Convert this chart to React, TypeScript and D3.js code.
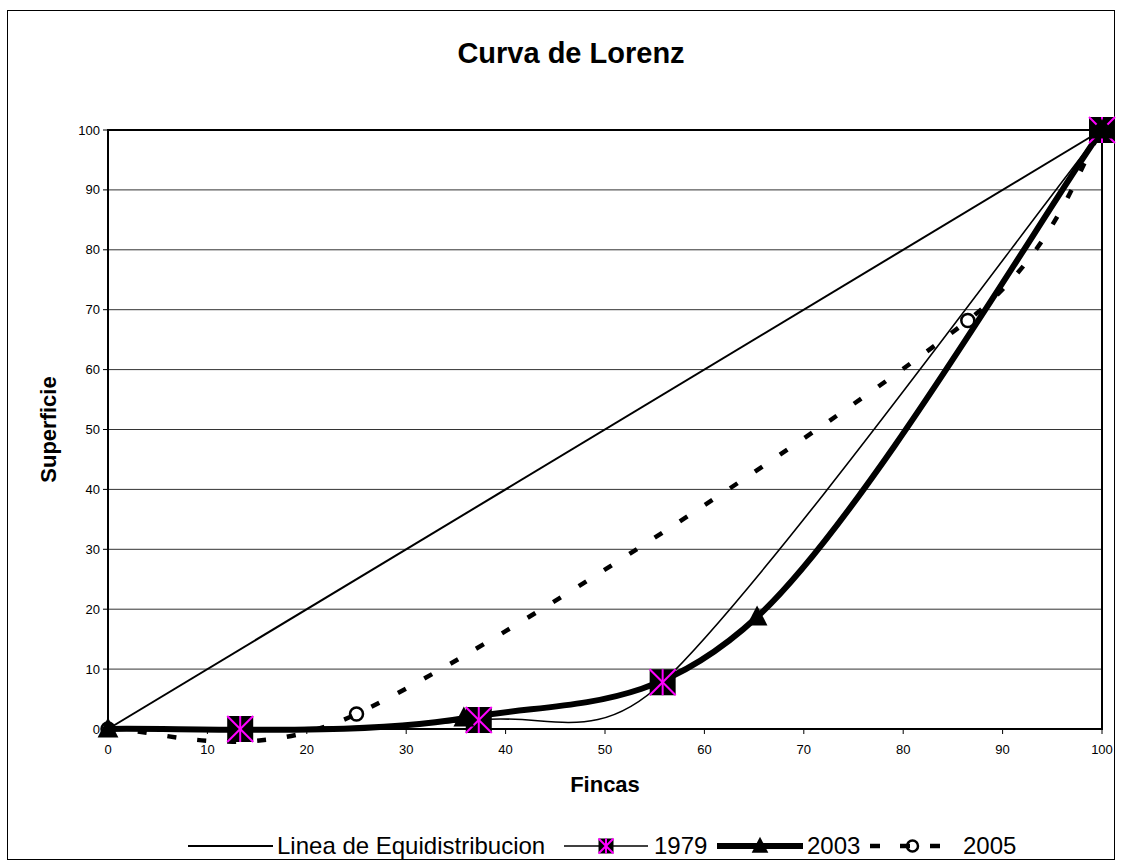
import React from "react";
import * as d3 from "d3";

// ---- data ----
const equiX = [0, 100];
const equiY = [0, 100];
const x1979 = [13.3, 37.3, 55.8, 100];
const y1979 = [0, 1.5, 7.8, 100];
const x2003 = [0, 35.8, 65.3, 100];
const y2003 = [0, 1.8, 18.7, 100];
const x2005 = [0, 25, 86.5, 100];
const y2005 = [0, 2.5, 68.2, 100];
const xTicks = [0, 10, 20, 30, 40, 50, 60, 70, 80, 90, 100];
const yTicks = [0, 10, 20, 30, 40, 50, 60, 70, 80, 90, 100];
const seriesNames = ["Linea de Equidistribucion", "1979", "2003", "2005"];
const title = "Curva de Lorenz";
const xTitle = "Fincas";
const yTitle = "Superficie";

const W = 1122, H = 867;
const M = { left: 108, right: 1102, top: 130, bottom: 729 };
const FONT = "Arial, 'Liberation Sans', Helvetica, sans-serif";

type P = [number, number];

function dist(a: P, b: P) {
  return Math.hypot(a[0] - b[0], a[1] - b[1]);
}

// Excel-like smoothed line (Bezier, arms capped at half segment length)
function excelSmooth(pts: P[]): string {
  const n = pts.length;
  if (n < 2) return "";
  let d = `M${pts[0][0]},${pts[0][1]}`;
  for (let i = 0; i < n - 1; i++) {
    const p0 = pts[i - 1] ?? pts[i];
    const p1 = pts[i];
    const p2 = pts[i + 1];
    const p3 = pts[i + 2] ?? pts[i + 1];
    const d12 = dist(p1, p2);
    const d02 = dist(p0, p2);
    const d13 = dist(p1, p3);
    let f1 = 1 / 6, f2 = 1 / 6;
    if (d02 > 0 && d02 / 6 > d12 / 2) f1 = d12 / (2 * d02);
    if (d13 > 0 && d13 / 6 > d12 / 2) f2 = d12 / (2 * d13);
    const c1: P = [p1[0] + (p2[0] - p0[0]) * f1, p1[1] + (p2[1] - p0[1]) * f1];
    const c2: P = [p2[0] - (p3[0] - p1[0]) * f2, p2[1] - (p3[1] - p1[1]) * f2];
    d += `C${c1[0]},${c1[1]} ${c2[0]},${c2[1]} ${p2[0]},${p2[1]}`;
  }
  return d;
}

const Star1979 = ({ x, y, s }: { x: number; y: number; s: number }) => {
  const h = s / 2;
  return (
    <g transform={`translate(${x},${y})`}>
      <rect x={-h} y={-h} width={s} height={s} fill="#000" />
      <g stroke="#ff00ff" strokeWidth={2}>
        <line x1={-h} y1={-h} x2={h} y2={h} />
        <line x1={-h} y1={h} x2={h} y2={-h} />
        <line x1={0} y1={-h} x2={0} y2={h} />
      </g>
    </g>
  );
};

const Tri = ({ x, y, s }: { x: number; y: number; s: number }) => (
  <path
    transform={`translate(${x},${y})`}
    d={`M0,${-s * 0.58}L${s * 0.52},${s * 0.42}L${-s * 0.52},${s * 0.42}Z`}
    fill="#000"
  />
);

const Circ = ({ x, y, r }: { x: number; y: number; r: number }) => (
  <circle cx={x} cy={y} r={r} fill="none" stroke="#000" strokeWidth={2.5} />
);

export default function App() {
  const xs = d3.scaleLinear().domain([0, 100]).range([M.left, M.right]);
  const ys = d3.scaleLinear().domain([0, 100]).range([M.bottom, M.top]);
  const pts = (xa: number[], ya: number[]): P[] => xa.map((v, i) => [xs(v), ys(ya[i])]);

  const pEqui = pts(equiX, equiY);
  const p1979 = pts(x1979, y1979);
  const p2003 = pts(x2003, y2003);
  const p2005 = pts(x2005, y2005);
  const straight = d3.line<P>()(pEqui) || "";

  const legY = 846;
  const leg = [
    { x0: 188, x1: 273, tx: 277 },
    { x0: 564, x1: 648, tx: 654 },
    { x0: 717, x1: 803, tx: 807 },
    { x0: 870, x1: 955, tx: 963 },
  ];

  return (
    <svg
      width={W}
      height={H}
      style={{ position: "absolute", left: 0, top: 0, background: "#fff" }}
      fontFamily={FONT}
    >
      <rect x={0} y={0} width={W} height={H} fill="#fff" />
      <rect x={7.5} y={10.5} width={1107} height={849} fill="none" stroke="#000" strokeWidth={1} />

      <text x={571} y={63} textAnchor="middle" fontSize={29} fontWeight="bold">
        {title}
      </text>

      {/* gridlines */}
      {yTicks.filter((t) => t > 0 && t < 100).map((t) => (
        <line key={"g" + t} x1={M.left} x2={M.right} y1={ys(t)} y2={ys(t)} stroke="#333" strokeWidth={1} />
      ))}

      {/* plot border */}
      <rect
        x={M.left}
        y={M.top}
        width={M.right - M.left}
        height={M.bottom - M.top}
        fill="none"
        stroke="#000"
        strokeWidth={2}
      />

      {/* y axis ticks */}
      {yTicks.map((t) => (
        <g key={"y" + t}>
          <line x1={M.left - 5} x2={M.left} y1={ys(t)} y2={ys(t)} stroke="#000" strokeWidth={1} />
          <text x={M.left - 8} y={ys(t)} dy="0.35em" textAnchor="end" fontSize={13}>
            {t}
          </text>
        </g>
      ))}
      {/* x axis ticks */}
      {xTicks.map((t) => (
        <g key={"x" + t}>
          <line x1={xs(t)} x2={xs(t)} y1={M.bottom} y2={M.bottom + 5} stroke="#000" strokeWidth={1} />
          <text x={xs(t)} y={M.bottom + 25} textAnchor="middle" fontSize={13}>
            {t}
          </text>
        </g>
      ))}

      <text x={605} y={792} textAnchor="middle" fontSize={22} fontWeight="bold">
        {xTitle}
      </text>
      <text
        transform={`translate(56,${(M.top + M.bottom) / 2}) rotate(-90)`}
        textAnchor="middle"
        fontSize={22}
        fontWeight="bold"
      >
        {yTitle}
      </text>

      {/* lines */}
      <path d={straight} fill="none" stroke="#000" strokeWidth={2} />
      <path d={excelSmooth(p1979)} fill="none" stroke="#000" strokeWidth={1.6} />
      <path d={excelSmooth(p2003)} fill="none" stroke="#000" strokeWidth={6} />
      <path d={excelSmooth(p2005)} fill="none" stroke="#000" strokeWidth={4.5} strokeDasharray="9 21" />

      {/* markers */}
      {p1979.map((p, i) => (
        <Star1979 key={"m79" + i} x={p[0]} y={p[1]} s={26} />
      ))}
      {p2003.map((p, i) => (
        <Tri key={"m03" + i} x={p[0]} y={p[1]} s={20} />
      ))}
      {p2005.map((p, i) => (
        <Circ key={"m05" + i} x={p[0]} y={p[1]} r={6.5} />
      ))}

      {/* legend */}
      <g fontSize={24}>
        <line x1={leg[0].x0} x2={leg[0].x1} y1={legY} y2={legY} stroke="#000" strokeWidth={2} />
        <text x={leg[0].tx} y={legY} dy="0.35em">{seriesNames[0]}</text>

        <line x1={leg[1].x0} x2={leg[1].x1} y1={legY} y2={legY} stroke="#000" strokeWidth={1.6} />
        <Star1979 x={(leg[1].x0 + leg[1].x1) / 2} y={legY} s={15} />
        <text x={leg[1].tx} y={legY} dy="0.35em">{seriesNames[1]}</text>

        <line x1={leg[2].x0} x2={leg[2].x1} y1={legY} y2={legY} stroke="#000" strokeWidth={6} />
        <Tri x={(leg[2].x0 + leg[2].x1) / 2} y={legY} s={16} />
        <text x={leg[2].tx} y={legY} dy="0.35em">{seriesNames[2]}</text>

        <line x1={leg[3].x0} x2={leg[3].x1} y1={legY} y2={legY} stroke="#000" strokeWidth={4.5} strokeDasharray="10 20" strokeDashoffset={0} />
        <Circ x={(leg[3].x0 + leg[3].x1) / 2} y={legY} r={5.5} />
        <text x={leg[3].tx} y={legY} dy="0.35em">{seriesNames[3]}</text>
      </g>
    </svg>
  );
}
